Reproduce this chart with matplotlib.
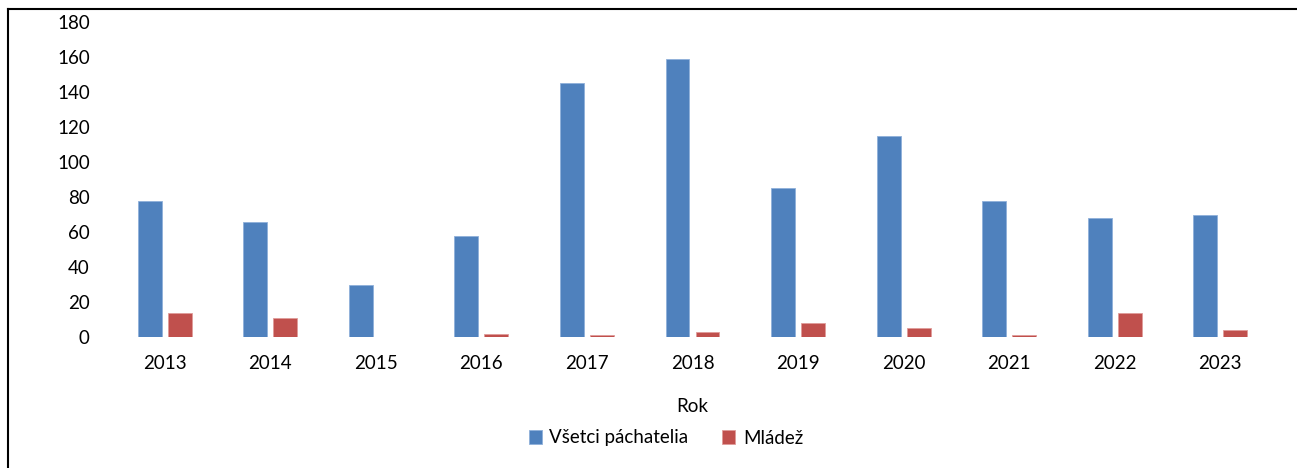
import matplotlib
matplotlib.use("Agg")
import matplotlib.pyplot as plt
import numpy as np
from matplotlib.lines import Line2D

years = ["2013", "2014", "2015", "2016", "2017", "2018", "2019", "2020", "2021", "2022", "2023"]
vsetci = [78, 66, 30, 58, 145, 159, 85, 115, 78, 68, 70]
mladez = [14, 11, 0, 2, 1, 3, 8, 5, 1, 14, 4]
yticks = [0, 20, 40, 60, 80, 100, 120, 140, 160, 180]

plt.rcParams['font.family'] = ['Lato', 'DejaVu Sans']

W, H = 1297, 468
fig = plt.figure(figsize=(W / 100, H / 100), dpi=100)
ax = fig.add_axes([112 / W, (H - 337) / H, (1273 - 112) / W, (337 - 22) / H])

x = np.arange(len(years))
bw = 0.227
off = 0.142
ax.bar(x - off, vsetci, bw, color="#4F81BD", edgecolor="#8FB0DA", linewidth=0.6, label="Všetci páchatelia")
ax.bar(x + off, mladez, bw, color="#C0504D", edgecolor="#E09C9A", linewidth=0.6, label="Mládež")

ax.set_xlim(-0.5, len(years) - 0.5)
ax.set_ylim(0, 180)
ax.set_yticks(yticks)
ax.set_xticks(x)
ax.set_xticklabels(years)
for s in ax.spines.values():
    s.set_visible(False)
ax.tick_params(axis='both', length=0, labelsize=13.5, colors="black")
ax.tick_params(axis='x', pad=13)
ax.tick_params(axis='y', pad=16)

fig.text(692 / W, (H - 406) / H, "Rok", ha="center", va="center", fontsize=13.5)
fig.legend(loc="center", bbox_to_anchor=(666 / W, (H - 438) / H), ncol=2, frameon=False,
           fontsize=13.5, handlelength=0.7, handleheight=0.7, handletextpad=0.4, columnspacing=1.8)

# outer frame (top and left edges visible)
fig.add_artist(Line2D([8 / W, 1], [(H - 9) / H, (H - 9) / H], transform=fig.transFigure, color="black", lw=1.5))
fig.add_artist(Line2D([8 / W, 8 / W], [0, (H - 9) / H], transform=fig.transFigure, color="black", lw=1.5))

fig.savefig("out.png", dpi=100)
